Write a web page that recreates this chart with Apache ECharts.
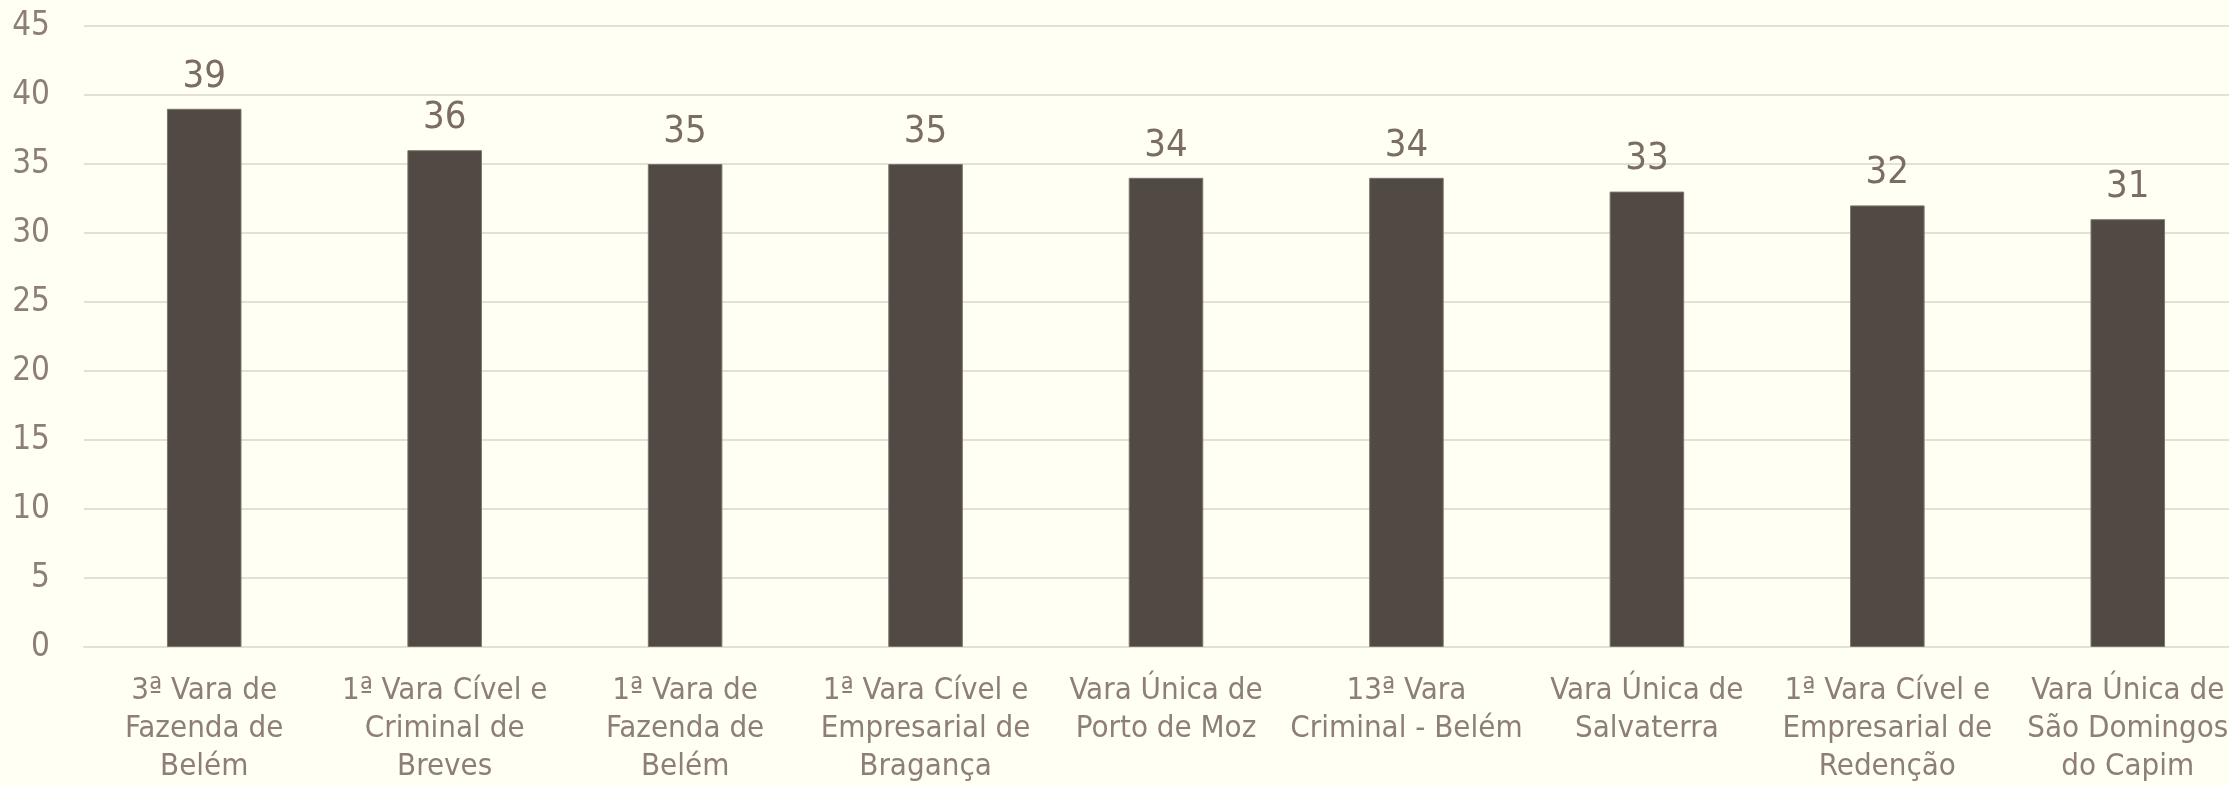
<!DOCTYPE html>
<html>
<head>
<meta charset="utf-8">
<script src="https://cdn.jsdelivr.net/npm/echarts@6/dist/echarts.min.js"></script>
<style>
  html, body { margin: 0; padding: 0; background: #fffff3; overflow: hidden; }
  /* o gráfico original é cortado à direita */
  #chart { width: 2248px; height: 786px; }
</style>
</head>
<body>
<div id="chart"></div>
<script>
// varas (categorias) e valores
var varas = [
  '3ª Vara de\nFazenda de\nBelém',
  '1ª Vara Cível e\nCriminal de\nBreves',
  '1ª Vara de\nFazenda de\nBelém',
  '1ª Vara Cível e\nEmpresarial de\nBragança',
  'Vara Única de\nPorto de Moz',
  '13ª Vara\nCriminal - Belém',
  'Vara Única de\nSalvaterra',
  '1ª Vara Cível e\nEmpresarial de\nRedenção',
  'Vara Única de\nSão Domingos\ndo Capim'
];
var valores = [39, 36, 35, 35, 34, 34, 33, 32, 31];

var fonte = '"DejaVu Sans Condensed", sans-serif';

var chart = echarts.init(document.getElementById('chart'));
var option = {
  backgroundColor: '#fffff3',
  animation: false,
  grid: {
    left: 84,
    top: 26,
    bottom: 139,
    right: 0
  },
  xAxis: {
    type: 'category',
    data: varas,
    axisLine: { lineStyle: { color: '#e3e0d9', width: 2 } },
    axisTick: { show: false },
    axisLabel: {
      color: '#8d7f78',
      fontFamily: fonte,
      fontSize: 31,
      lineHeight: 38,
      margin: 25,
      interval: 0
    }
  },
  yAxis: {
    type: 'value',
    min: 0,
    max: 45,
    interval: 5,
    axisLine: { show: false },
    axisTick: { show: false },
    splitLine: { lineStyle: { color: '#e3e0d9', width: 2 } },
    axisLabel: {
      color: '#8d7f78',
      fontFamily: fonte,
      fontSize: 33,
      margin: 34
    }
  },
  series: [{
    type: 'bar',
    data: valores,
    barWidth: '31%',
    itemStyle: { color: '#514943', borderColor: '#7d746e', borderWidth: 1 },
    label: {
      show: true,
      position: 'top',
      distance: 13,
      color: '#7b6c64',
      fontFamily: fonte,
      fontSize: 38
    }
  }]
};
chart.setOption(option);
</script>
</body>
</html>
